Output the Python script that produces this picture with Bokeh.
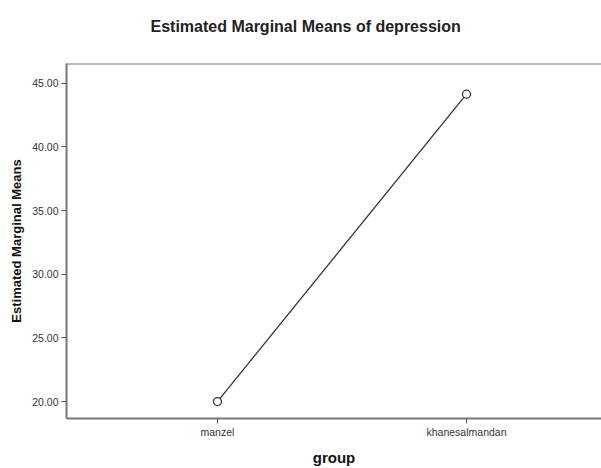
from bokeh.plotting import figure
from bokeh.models import FixedTicker, Span, Range1d, NumeralTickFormatter, Title
from bokeh.embed import file_html
from bokeh.resources import INLINE

title_text = "Estimated Marginal Means of depression"
groups = ["manzel", "khanesalmandan"]
means = [20.0, 44.15]
y_ticks = [20, 25, 30, 35, 40, 45]

xs = list(range(len(groups)))
y_lo, y_hi = 18.67, 46.56

p = figure(width=601, height=468, output_backend="svg", toolbar_location=None,
           x_range=Range1d(-0.606, 1.542), y_range=Range1d(y_lo, y_hi),
           min_border_left=66, min_border_top=63, min_border_bottom=49, min_border_right=0)
# trailing line break lifts the single visible title line higher above the frame
p.title = Title(text=title_text + "\n", align="left",
                text_font="Liberation Sans", text_font_size="16px", text_font_style="bold",
                text_color="#222222", offset=84, standoff=24)
p.outline_line_color = None
p.grid.grid_line_color = None
p.background_fill_color = "white"
p.border_fill_color = "white"

p.line(xs, means, line_color="#333333", line_width=1.3)
p.scatter(xs, means, marker="circle", size=8, fill_color="white", line_color="#333333", line_width=1.3)

top = Span(location=y_hi, dimension="width", line_color="#777777", line_width=2)
p.add_layout(top)

for ax in (p.xaxis[0], p.yaxis[0]):
    ax.axis_line_color = "#777777"
    ax.axis_line_width = 2
    ax.major_tick_line_color = "#555555"
    ax.major_tick_line_width = 1
    ax.major_tick_out = 5
    ax.major_tick_in = 0
    ax.minor_tick_line_color = None
    ax.major_label_text_font = "Liberation Sans"
    ax.major_label_text_font_size = "10.5px"
    ax.major_label_text_color = "#333333"
    ax.axis_label_text_font = "Liberation Sans"
    ax.axis_label_text_font_style = "bold"
    ax.axis_label_text_color = "#111111"

p.xaxis.ticker = FixedTicker(ticks=xs)
p.xaxis.major_label_overrides = {i: g for i, g in zip(xs, groups)}
p.xaxis.axis_label = "group"
p.xaxis.axis_label_text_font_size = "15px"
p.xaxis.major_label_standoff = 2
p.xaxis.axis_label_standoff = 8

p.yaxis.ticker = FixedTicker(ticks=y_ticks)
p.yaxis.formatter = NumeralTickFormatter(format="0.00")
p.yaxis.axis_label = "Estimated Marginal Means"
p.yaxis.axis_label_text_font_size = "13px"
p.yaxis.major_label_standoff = 3
p.yaxis.axis_label_standoff = 5

open("out.html", "w").write(file_html(p, INLINE))
